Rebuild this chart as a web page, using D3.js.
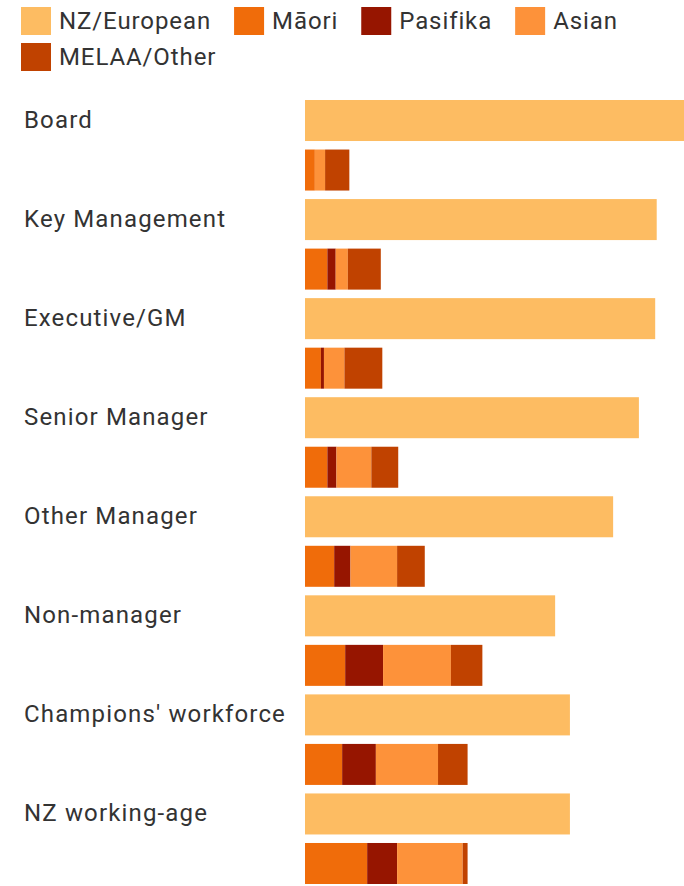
<!DOCTYPE html>
<html>
<head>
<meta charset="utf-8">
<script src="https://cdn.jsdelivr.net/npm/d3@7"></script>
<style>
    body { margin: 0; background: #fff; }
    text { font-family: Roboto, "Noto Sans", sans-serif; fill: #333; }
    .legend text { letter-spacing: 0.9px; }
    .label { letter-spacing: 1.15px; }
</style>
</head>
<body>
<div id="chart"></div>
<script>
// Ethnicity shares (%)
var categories = ["Board", "Key Management", "Executive/GM", "Senior Manager",
    "Other Manager", "Non-manager", "Champions' workforce", "NZ working-age"];
var groups = ["NZ/European", "Māori", "Pasifika", "Asian", "MELAA/Other"];
var colors = ["#fdbc62", "#f06c0a", "#961500", "#fd923a", "#c04200"];

var nzEuropean = [100.0, 92.8, 92.4, 88.1, 81.3, 66.0, 69.9, 69.9];
var maori      = [2.6, 5.9, 4.2, 5.9, 7.7, 10.6, 9.8, 16.4];
var pasifika   = [0.0, 2.2, 0.8, 2.4, 4.3, 10.0, 8.9, 7.9];
var asian      = [2.7, 3.2, 5.4, 9.2, 12.3, 17.9, 16.4, 17.3];
var melaa      = [6.4, 8.7, 10.0, 7.1, 7.3, 8.3, 7.8, 1.3];

var width = 684, height = 886;

var svg = d3.select("#chart").append("svg")
    .attr("width", width)
    .attr("height", height);

var color = d3.scaleOrdinal().domain(groups).range(colors);

// Legend (wraps when it runs out of room)
var legend = svg.append("g").attr("class", "legend");
var lx = 21, ly = 7, rowH = 36, sw = 30, gap = 23;
groups.forEach(function(g) {
    var item = legend.append("g");
    item.append("rect")
        .attr("width", sw)
        .attr("height", 28)
        .attr("fill", color(g));
    var t = item.append("text")
        .attr("x", sw + 8)
        .attr("y", 22)
        .style("font-size", "24px")
        .text(g);
    var w = sw + 8 + t.node().getComputedTextLength();
    if (lx + w > width) { lx = 21; ly += rowH; }
    item.attr("transform", "translate(" + lx + "," + ly + ")");
    lx += w + gap;
});

// Rows: one NZ/European bar then one stacked bar per category
var rows = [];
categories.forEach(function(c) { rows.push(c + "|nz"); rows.push(c + "|other"); });

var y = d3.scaleBand()
    .domain(rows)
    .range([100, 884])
    .paddingInner(0.172)
    .paddingOuter(0);

var x = d3.scaleLinear()
    .domain([0, 100])
    .range([305, 684]);

var data = categories.map(function(c, i) {
    return { cat: c, nz: nzEuropean[i], "Māori": maori[i], "Pasifika": pasifika[i],
        "Asian": asian[i], "MELAA/Other": melaa[i] };
});

// NZ/European bars
svg.append("g").selectAll("rect")
    .data(data)
    .enter()
    .append("rect")
    .attr("x", x(0))
    .attr("y", function(d) { return y(d.cat + "|nz"); })
    .attr("width", function(d) { return x(d.nz) - x(0); })
    .attr("height", y.bandwidth())
    .attr("fill", color("NZ/European"));

// stacked minority bars
var stack = d3.stack().keys(groups.slice(1));
var series = stack(data);

svg.append("g").selectAll("g")
    .data(series)
    .enter()
    .append("g")
    .attr("fill", function(s) { return color(s.key); })
    .selectAll("rect")
    .data(function(s) { return s; })
    .enter()
    .append("rect")
    .attr("x", function(d) { return x(d[0]); })
    .attr("y", function(d) { return y(d.data.cat + "|other"); })
    .attr("width", function(d) { return x(d[1]) - x(d[0]); })
    .attr("height", y.bandwidth());

// category labels
svg.append("g").selectAll("text")
    .data(categories)
    .enter()
    .append("text")
    .attr("class", "label")
    .attr("x", 24)
    .attr("y", function(d) { return y(d + "|nz") + y.bandwidth() / 2 + 7.5; })
    .style("font-size", "24px")
    .text(function(d) { return d; });
</script>
</body>
</html>
